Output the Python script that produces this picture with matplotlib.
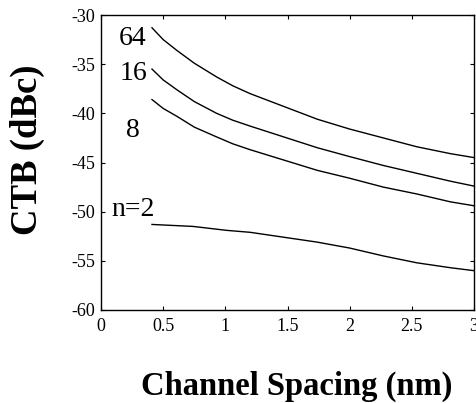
import matplotlib
matplotlib.use("Agg")
import matplotlib.pyplot as plt

plt.rcParams['font.family'] = ['Liberation Serif', 'DejaVu Serif']
plt.rcParams['axes.unicode_minus'] = False

# Channel spacing (nm)
x64 = [0.41, 0.5, 0.61, 0.75, 0.93, 1.06, 1.2, 1.47, 1.74, 2.0, 2.27, 2.54, 2.81, 3.0]
y64 = [-31.3, -32.5, -33.6, -34.9, -36.3, -37.2, -38.0, -39.3, -40.6, -41.6, -42.5, -43.4, -44.1, -44.5]

x16 = [0.41, 0.5, 0.61, 0.75, 0.93, 1.06, 1.2, 1.47, 1.74, 2.0, 2.27, 2.54, 2.81, 3.0]
y16 = [-35.5, -36.6, -37.6, -38.8, -40.0, -40.7, -41.3, -42.4, -43.5, -44.4, -45.3, -46.1, -46.9, -47.4]

x8 = [0.41, 0.5, 0.61, 0.75, 0.93, 1.06, 1.2, 1.47, 1.74, 2.0, 2.27, 2.54, 2.81, 3.0]
y8 = [-38.6, -39.5, -40.3, -41.4, -42.4, -43.1, -43.7, -44.75, -45.8, -46.6, -47.5, -48.2, -49.0, -49.4]

x2 = [0.41, 0.74, 1.01, 1.2, 1.47, 1.74, 2.0, 2.27, 2.54, 2.81, 3.0]
y2 = [-51.3, -51.5, -51.9, -52.1, -52.6, -53.1, -53.7, -54.5, -55.2, -55.7, -56.0]

labels = ["64", "16", "8", "n=2"]
label_x = [0.25, 0.26, 0.26, 0.26]
label_y = [-32.4, -36.0, -41.7, -49.8]

xticks = [0, 0.5, 1, 1.5, 2, 2.5, 3]
xticklabels = ["0", "0.5", "1", "1.5", "2", "2.5", "3"]
yticks = [-60, -55, -50, -45, -40, -35, -30]
yticklabels = ["-60", "-55", "-50", "-45", "-40", "-35", "-30"]

W, H = 476, 403
fig = plt.figure(figsize=(W / 100, H / 100), dpi=100)
ax = fig.add_axes([101 / W, (H - 310) / H, (474 - 101) / W, (310 - 15) / H])

for xs, ys in [(x64, y64), (x16, y16), (x8, y8), (x2, y2)]:
    ax.plot(xs, ys, color='black', linewidth=1.0)

for t, lx, ly in zip(labels, label_x, label_y):
    ax.text(lx, ly, t, fontsize=20, ha='center', va='center', color='black')

ax.set_xlim(0, 3)
ax.set_ylim(-60, -30)
ax.set_xticks(xticks)
ax.set_xticklabels(xticklabels)
ax.set_yticks(yticks)
ax.set_yticklabels(yticklabels)
ax.tick_params(direction='in', length=3, width=0.8, labelsize=13, top=True, right=True)
ax.tick_params(axis='x', pad=6)
ax.tick_params(axis='y', pad=4)
for s in ax.spines.values():
    s.set_linewidth(1.0)

fig.text(27 / W, 1 - 150 / H, "CTB (dBc)", rotation=90, fontsize=26.5, fontweight='bold',
         ha='center', va='center')
fig.text(297 / W, 1 - 386 / H, "Channel Spacing (nm)", fontsize=23.5, fontweight='bold',
         ha='center', va='center')

fig.savefig("out.png", dpi=100)
